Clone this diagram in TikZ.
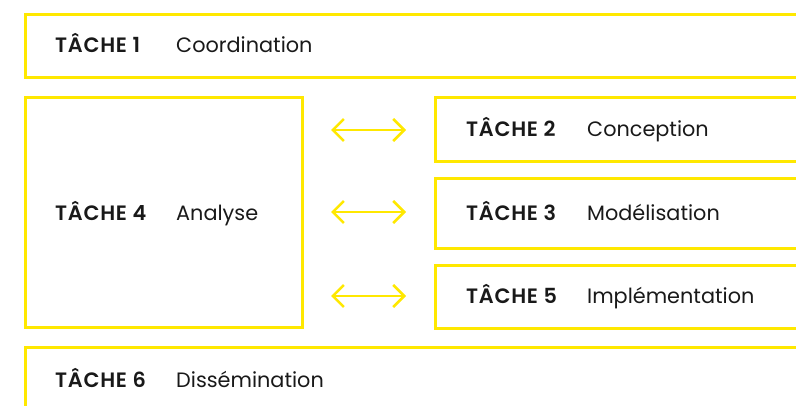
\documentclass[tikz,border=0pt]{standalone}
\usepackage{fontspec}
\setmainfont{Poppins}[BoldFont={Poppins SemiBold}, BoldFeatures={LetterSpace=3.5}]
\usetikzlibrary{arrows.meta}
\definecolor{tyellow}{RGB}{255,232,0}
\definecolor{ttext}{RGB}{25,25,25}
\tikzset{
  taskbox/.style={draw=tyellow, line width=3pt, fill=none, rectangle, inner sep=0pt, anchor=north west},
  tasklabel/.style={anchor=base west, inner sep=0pt, text=ttext, font=\fontsize{20.8}{23}\selectfont\bfseries},
  taskname/.style={anchor=base west, inner sep=0pt, text=ttext, font=\fontsize{20.8}{23}\selectfont},
  linkarrow/.style={draw=tyellow, line width=2.5pt, {Straight Barb[length=11pt,width=22pt]}-{Straight Barb[length=11pt,width=22pt]}}
}
\begin{document}
\begin{tikzpicture}[x=1pt,y=-1pt]
\useasboundingbox (0,0) rectangle (796,406);
\clip (0,0) rectangle (796,406);
% boxes
\node[taskbox, minimum width=800pt, minimum height=62.5pt] (b1) at (24,13.5) {};
\node[taskbox, minimum width=277pt, minimum height=230pt] (b4) at (24,96) {};
\node[taskbox, minimum width=400pt, minimum height=64pt] (b2) at (434,96) {};
\node[taskbox, minimum width=400pt, minimum height=70pt] (b3) at (434,177) {};
\node[taskbox, minimum width=400pt, minimum height=63pt] (b5) at (434,264) {};
\node[taskbox, minimum width=800pt, minimum height=80pt] (b6) at (24,346) {};
% texts
\node[tasklabel] (l1) at (55,53) {TÂCHE 1};
\node[taskname] (n1) at (176,53) {Coordination};
\node[tasklabel] (l2) at (466,137) {TÂCHE 2};
\node[taskname] (n2) at (587,137) {Conception};
\node[tasklabel] (l3) at (466,221) {TÂCHE 3};
\node[taskname] (n3) at (587,221) {Modélisation};
\node[tasklabel] (l4) at (55,221) {TÂCHE 4};
\node[taskname] (n4) at (176,221) {Analyse};
\node[tasklabel] (l5) at (466,304) {TÂCHE 5};
\node[taskname] (n5) at (587,304) {Implémentation};
\node[tasklabel] (l6) at (55,388) {TÂCHE 6};
\node[taskname] (n6) at (176,388) {Dissémination};
% arrows
\draw[linkarrow, shorten <=27pt, shorten >=28pt] (b4.east |- 0,130) -- (b2.west |- 0,130);
\draw[linkarrow, shorten <=27pt, shorten >=28pt] (b4.east |- 0,212) -- (b3.west |- 0,212);
\draw[linkarrow, shorten <=27pt, shorten >=28pt] (b4.east |- 0,296) -- (b5.west |- 0,296);
\end{tikzpicture}
\end{document}
